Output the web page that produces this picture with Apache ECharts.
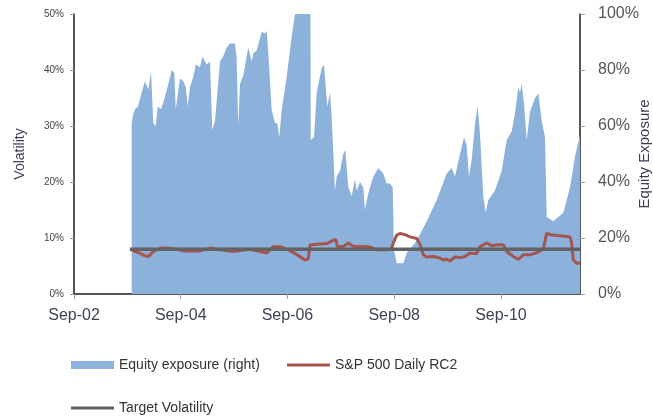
<!DOCTYPE html>
<html><head><meta charset="utf-8">
<script src="https://cdn.jsdelivr.net/npm/echarts@6/dist/echarts.min.js"></script>
<style>html,body{margin:0;padding:0;background:#fff;overflow:hidden}#c{width:653px;height:418px}</style>
</head><body><div id="c"></div>
<script>
// x values are decimal years; the axis runs from Sep-02 to mid Feb-12
const AXIS_START = 2002 + 8 / 12;
const AXIS_END = 2012.148;
const xTickLabels = ['Sep-02', 'Sep-04', 'Sep-06', 'Sep-08', 'Sep-10'];

// Equity exposure (right axis, %)
const exposureDates = [2003.748,2003.772,2003.810,2003.866,2003.935,2003.997,2004.059,2004.110,2004.153,2004.198,2004.235,2004.297,2004.359,2004.434,2004.498,2004.546,2004.573,2004.653,2004.715,2004.760,2004.797,2004.841,2004.902,2004.947,2005.028,2005.071,2005.153,2005.215,2005.258,2005.309,2005.403,2005.464,2005.528,2005.590,2005.684,2005.712,2005.745,2005.777,2005.839,2005.933,2005.997,2006.027,2006.090,2006.184,2006.246,2006.278,2006.308,2006.371,2006.433,2006.476,2006.514,2006.559,2006.652,2006.746,2006.808,2007.098,2007.102,2007.164,2007.215,2007.308,2007.351,2007.413,2007.464,2007.496,2007.557,2007.589,2007.651,2007.713,2007.750,2007.807,2007.870,2007.932,2007.964,2008.026,2008.088,2008.119,2008.181,2008.275,2008.369,2008.462,2008.526,2008.588,2008.639,2008.663,2008.713,2008.837,2008.901,2009.088,2009.276,2009.463,2009.650,2009.744,2009.806,2009.900,2009.975,2010.025,2010.068,2010.119,2010.181,2010.231,2010.274,2010.336,2010.381,2010.430,2010.555,2010.681,2010.774,2010.868,2010.930,2010.992,2011.023,2011.056,2011.099,2011.149,2011.211,2011.305,2011.367,2011.430,2011.492,2011.524,2011.648,2011.835,2011.961,2012.054,2012.148];
const exposureValues = [61,64,66,67,72,76,73,79.4,61,60,67,66,69.6,75,80,79,66,77,76,74,67,74,77.6,82,81,84.8,82,83,58.6,62,83,85,88,89.5,89.5,85,60,75,78,88,83,86,87,93.7,93,94,86,65.7,61,61,56,65.7,77.6,92,100,100,55,56,72,80.7,82,67,72,63,37,42,44,50,51.5,38,35,41,37,40,38,30,36,42,45,43,39.5,39.5,38,15.7,11,11,14.6,19,26,33.6,43,45,42,50,56,53,42,48,61,67,57,35,29,33.6,37,44,55,58,64.5,74,72,75,68,55,65,70,71.6,62,56,27.5,26,29,38,49,57];

// S&P 500 Daily RC2 (left axis, %)
const rc2Dates = [2003.716,2003.810,2003.904,2003.979,2004.059,2004.153,2004.278,2004.404,2004.591,2004.715,2005.028,2005.215,2005.403,2005.652,2005.965,2006.278,2006.401,2006.527,2006.652,2006.776,2006.902,2006.995,2007.057,2007.089,2007.215,2007.402,2007.526,2007.576,2007.601,2007.713,2007.807,2007.900,2008.088,2008.213,2008.339,2008.526,2008.607,2008.650,2008.713,2008.775,2008.869,2008.963,2009.088,2009.150,2009.212,2009.276,2009.399,2009.525,2009.587,2009.650,2009.712,2009.806,2009.900,2009.993,2010.087,2010.212,2010.274,2010.400,2010.494,2010.587,2010.711,2010.774,2010.898,2010.992,2011.086,2011.211,2011.337,2011.460,2011.524,2011.586,2011.773,2011.961,2011.992,2012.022,2012.086,2012.148];
const rc2Values = [8.0,7.6,7.26,6.9,6.67,7.6,8.16,8.2,8.0,7.7,7.7,8.2,7.9,7.6,8.0,7.3,8.45,8.45,8.0,7.4,6.67,6.07,6.3,8.75,8.9,9.0,9.6,9.7,8.5,8.5,9.1,8.5,8.5,8.4,7.9,7.9,8.0,9.1,10.5,10.8,10.6,10.2,9.9,8.9,7.0,6.6,6.7,6.4,6.07,6.2,5.9,6.6,6.5,6.7,7.3,7.2,8.45,9.1,8.6,8.8,8.8,7.6,6.7,6.2,7.0,7.0,7.4,8.0,10.9,10.6,10.4,10.2,9.1,6.07,5.5,5.5];

// Target Volatility (left axis, %)
const targetDates = [2003.716, 2012.148];
const targetValues = [8, 8];

function toMonths(y) { return (y - AXIS_START) * 12; }
function pairs(xs, ys) { return xs.map((x, i) => [toMonths(x), ys[i]]); }

const FONT = 'Liberation Sans, Arial, sans-serif';
const AX = '#1e1e1e';
const BLUE = '#8cb1db', RED = '#a5554d', GREY = '#636363';
const legendText = { fontFamily: FONT, fontSize: 14, color: '#333' };

const chart = echarts.init(document.getElementById('c'), null, { renderer: 'canvas' });
chart.setOption({
  animation: false,
  backgroundColor: '#ffffff',
  textStyle: { fontFamily: FONT },
  grid: { left: 74, right: 73, top: 14, bottom: 124, containLabel: false, outerBoundsMode: 'none' },
  legend: [
    { left: 71, top: 358, padding: 0, itemWidth: 43, itemHeight: 8, textStyle: legendText,
      data: [{ name: 'Equity exposure (right)', icon: 'rect' }] },
    { left: 287, top: 358, padding: 0, itemWidth: 43, itemHeight: 3, textStyle: legendText,
      data: [{ name: 'S&P 500 Daily RC2', icon: 'rect' }] },
    { left: 71, top: 401, padding: 0, itemWidth: 43, itemHeight: 3, textStyle: legendText,
      data: [{ name: 'Target Volatility', icon: 'rect' }] }
  ],
  xAxis: {
    type: 'value', min: 0, max: toMonths(AXIS_END), interval: 24,
    axisLine: { show: true, lineStyle: { color: AX, width: 1.5 } },
    axisTick: { show: true, length: 5, lineStyle: { color: '#999' } },
    splitLine: { show: false },
    axisLabel: {
      margin: 14, fontSize: 16, color: '#3c4454', fontFamily: FONT, showMaxLabel: false,
      formatter: v => xTickLabels[Math.round(v / 24)] || ''
    }
  },
  yAxis: [
    {
      type: 'value', min: 0, max: 50, interval: 10, position: 'left',
      name: 'Volatility', nameLocation: 'middle', nameGap: 47, nameRotate: 90, nameMoveOverlap: false,
      nameTextStyle: { fontSize: 14, color: '#3d3d55', fontFamily: FONT },
      axisLine: { show: true, lineStyle: { color: AX, width: 1.5 } },
      axisTick: { show: true, length: 4, lineStyle: { color: '#999' } },
      splitLine: { show: false },
      axisLabel: { margin: 10, fontSize: 10, color: '#444', fontFamily: FONT, formatter: '{value}%' }
    },
    {
      type: 'value', min: 0, max: 100, interval: 20, position: 'right',
      name: 'Equity Exposure', nameLocation: 'middle', nameGap: 57, nameRotate: 90, nameMoveOverlap: false,
      nameTextStyle: { fontSize: 15, color: '#3d3d55', fontFamily: FONT },
      axisLine: { show: true, lineStyle: { color: AX, width: 1.5 } },
      axisTick: { show: true, length: 5, lineStyle: { color: '#999' } },
      splitLine: { show: false },
      axisLabel: { margin: 18, fontSize: 16, color: '#555', fontFamily: FONT, formatter: '{value}%' }
    }
  ],
  series: [
    {
      name: 'Equity exposure (right)', type: 'line', yAxisIndex: 1,
      data: pairs(exposureDates, exposureValues),
      symbol: 'none', lineStyle: { width: 0 }, color: BLUE,
      itemStyle: { color: BLUE },
      areaStyle: { color: BLUE, opacity: 1 }, z: 1
    },
    {
      name: 'S&P 500 Daily RC2', type: 'line', yAxisIndex: 0,
      data: pairs(rc2Dates, rc2Values),
      symbol: 'none', color: RED, itemStyle: { color: RED },
      lineStyle: { width: 3, color: RED }, z: 2
    },
    {
      name: 'Target Volatility', type: 'line', yAxisIndex: 0,
      data: pairs(targetDates, targetValues),
      symbol: 'none', color: GREY, itemStyle: { color: GREY },
      lineStyle: { width: 3.5, color: GREY }, z: 3
    }
  ]
});
</script></body></html>
